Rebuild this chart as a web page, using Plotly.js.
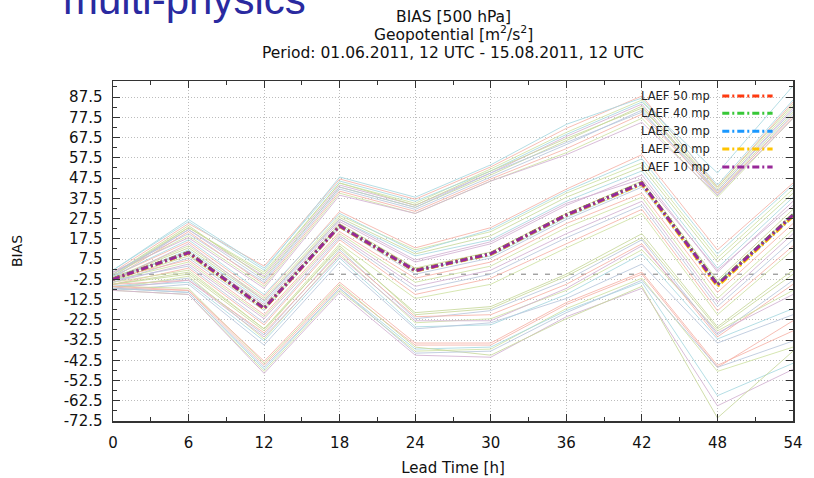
<!DOCTYPE html>
<html>
<head>
<meta charset="utf-8">
<script src="https://cdn.plot.ly/plotly-3.0.1.min.js"></script>
<style>html,body{margin:0;padding:0;background:#fff;}#chart{width:814px;height:478px;}</style>
</head>
<body>
<div id="chart"></div>
<script>
// Lead times (x values)
const leadTimes = [0, 6, 12, 18, 24, 30, 36, 42, 48, 54];

// Ensemble means
const laef50 = [-2.3, 10.8, -16.7, 24.0, 1.9, 10.2, 29.4, 45.1, -5.0, 29.4];
const laef40 = [-2.4, 10.7, -16.8, 23.9, 1.8, 10.1, 29.3, 45.0, -5.1, 29.3];
const laef30 = [-2.5, 10.5, -17.0, 23.7, 1.6, 9.9, 29.1, 44.8, -5.5, 29.0];
const laef20 = [-2.6, 10.4, -17.1, 23.6, 1.5, 9.8, 29.0, 44.5, -6.0, 28.6];
const laef10 = [-2.5, 10.6, -16.9, 23.8, 1.7, 10.0, 29.2, 44.9, -5.3, 29.2];
const meanNames = ["LAEF 50 mp", "LAEF 40 mp", "LAEF 30 mp", "LAEF 20 mp", "LAEF 10 mp"];

// Individual members (thin lines)
const members = [
  [1, 25, 4, 47, 37, 53, 72, 88, 43, 85],
  [0, 23, 1, 45, 35, 52, 70, 86, 42, 83],
  [2, 26, 2, 48, 38, 54, 74, 87, 44, 86],
  [-1, 22, -1, 44, 34, 50, 68, 84, 41, 82],
  [0, 24, -2, 43, 33, 49, 66, 83, 40, 80],
  [1, 20, -4, 42, 32, 48, 64, 81, 39, 79],
  [-2, 21, -5, 41, 31, 47, 62, 79, 40, 78],
  [0, 19, -6, 40, 30, 46, 60, 77, 38, 77],
  [2, 27, 3, 46, 36, 51, 69, 85, 50, 93],
  [1, 18, -7, 39, 30, 46, 59, 75, 39, 77],
  [-1, 23, 0, 45, 34, 51, 67, 82, 43, 84],
  [0, 22, -3, 43, 33, 50, 65, 80, 41, 81],
  [-1, 16, -11, 31, 13, 23, 42, 59, 12, 45],
  [-2, 14, -12, 29, 12, 21, 40, 55, 8, 42],
  [-3, 12, -14, 27, 9, 17, 36, 51, 3, 38],
  [-2, 11, -15, 26, 6, 15, 34, 49, 1, 36],
  [-3, 9, -17, 25, 3, 11, 30, 46, -3, 32],
  [-4, 8, -18, 23, 0, 8, 27, 43, -6, 28],
  [-2, 7, -20, 21, -2, 6, 25, 40, -9, 25],
  [-3, 6, -21, 20, -4, 4, 23, 38, -12, 22],
  [-1, 10, -16, 24, 2, 9, 28, 44, -4, 30],
  [-4, 5, -22, 19, -6, 2, 20, 36, -14, 20],
  [-2, 13, -13, 28, 10, 19, 38, 53, 6, 40],
  [-3, 4, -24, 18, -8, 0, 18, 34, -16, 17],
  [-5, 3, -25, 17, -10, -2, 15, 32, -18, 14],
  [-4, 2, -27, 15, -12, -5, 13, 30, -20, 12],
  [-1, 17, -10, 30, 11, 22, 41, 57, 10, 44],
  [-3, 15, -13, 27, 7, 16, 35, 47, 2, 34],
  [-5, 0, -28, 14, -20, -17, -1, 18, -27, 0],
  [-6, -2, -30, 12, -22, -18, -3, 17, -30, -3],
  [-5, -3, -29, 11, -21, -20, -5, 15, -31, -5],
  [-7, -1, -32, 10, -24, -22, -8, 12, -28, -8],
  [-6, -4, -33, 8, -26, -25, -10, 10, -32, -17],
  [-7, -3, -31, 9, -23, -23, -7, 14, -29, -10],
  [-5, 1, -27, 13, -19, -16, 0, 20, -26, 2],
  [-8, -5, -35, 6, -27, -24, -12, 5, -34, -20],
  [-7, -8, -45, -6, -35, -35, -15, 0, -46, -23],
  [-8, -10, -48, -8, -38, -37, -17, -2, -48, -36],
  [-7, -9, -47, -7, -37, -36, -18, -4, -60, -44],
  [-8, -10, -49, -9, -40, -41, -21, -7, -65, -47],
  [-6, -7, -44, -5, -36, -40, -22, -6, -71, -38],
  [-7, -9, -46, -7, -39, -38, -19, -3, -46, -33],
  [-6, -8, -43, -4, -34, -34, -14, 1, -45, -28]
];

// Tick labels
const yTickVals = [-72.5, -62.5, -52.5, -42.5, -32.5, -22.5, -12.5, -2.5, 7.5, 17.5, 27.5, 37.5, 47.5, 57.5, 67.5, 77.5, 87.5];
const xTickVals = [0, 6, 12, 18, 24, 30, 36, 42, 48, 54];
const titleLines = ['BIAS [500 hPa]', 'Geopotential [m<sup>2</sup>/s<sup>2</sup>]', 'Period: 01.06.2011, 12 UTC - 15.08.2011, 12 UTC'];
const zeroValue = 0;

const memberColors = ['#f6b3a8', '#cfe2a3', '#a8d8e0', '#d2b2d2', '#c8d89c', '#b9c7dc'];
const meanColors = ['#ff3a10', '#38c838', '#1a98ff', '#ffc400', '#982898'];
const dashPattern = '7px,3px,2px,3px';
const font = 'DejaVu Sans, Verdana, sans-serif';

const traces = [];
members.forEach((m, i) => {
  traces.push({
    x: leadTimes, y: m, type: 'scatter', mode: 'lines',
    line: {color: memberColors[i % memberColors.length], width: 1},
    opacity: 0.85, showlegend: false, hoverinfo: 'skip'
  });
});
[laef50, laef40, laef30, laef20, laef10].forEach((m, i) => {
  traces.push({
    x: leadTimes, y: m, type: 'scatter', mode: 'lines', name: meanNames[i],
    line: {color: meanColors[i], width: 3, dash: dashPattern},
    showlegend: false
  });
});

// Custom gnuplot-like legend (text then sample)
const legendY = [0.956, 0.905, 0.852, 0.800, 0.747];
const annotations = meanNames.map((n, i) => ({
  xref: 'paper', yref: 'paper', x: 0.881, y: legendY[i], xanchor: 'right', yanchor: 'middle',
  text: n, showarrow: false, font: {family: font, size: 11.5, color: '#222'}
}));
// Title lines
const titleY = [1.189, 1.140, 1.082];
titleLines.forEach((t, i) => {
  annotations.push({
    xref: 'paper', yref: 'paper', x: 0.5, y: titleY[i], xanchor: 'center', yanchor: 'middle',
    text: t, showarrow: false, font: {family: font, size: 15.5, color: '#111'}
  });
});
annotations.push({
  xref: 'paper', yref: 'paper', x: -0.077, y: 1.165, xanchor: 'left', yanchor: 'bottom',
  text: 'multi-physics', showarrow: false,
  font: {family: 'Liberation Sans, Arial, sans-serif', size: 42, color: '#2a2aa0'}
});
const shapes = meanNames.map((n, i) => ({
  type: 'line', xref: 'paper', yref: 'paper', x0: 0.896, x1: 0.970, y0: legendY[i], y1: legendY[i],
  line: {color: meanColors[i], width: 3, dash: dashPattern}
}));
shapes.push({
  type: 'line', xref: 'paper', yref: 'y', x0: 0, x1: 1, y0: zeroValue, y1: zeroValue,
  layer: 'below', line: {color: '#7a7a7a', width: 1, dash: '5px,7px'}
});

const axisCommon = {
  showline: true, linecolor: '#333', linewidth: 1.5, mirror: 'allticks',
  ticks: 'inside', ticklen: 7, tickcolor: '#333', tickwidth: 1,
  showgrid: true, gridcolor: '#bdbdbd', griddash: '1px,2px', gridwidth: 1,
  zeroline: false, tickfont: {family: font, size: 15, color: '#111'}
};

const layout = {
  width: 814, height: 478,
  margin: {l: 113, r: 21, t: 81, b: 57},
  paper_bgcolor: '#fff', plot_bgcolor: '#fff',
  xaxis: Object.assign({}, axisCommon, {
    range: [0, 54], tickvals: xTickVals, ticktext: xTickVals.map(String),
    ticklabelstandoff: 7,
    minor: {dtick: 3, tick0: 0, ticks: 'inside', ticklen: 4, tickcolor: '#333', showgrid: false},
    title: {text: 'Lead Time [h]', font: {family: font, size: 15, color: '#111'}, standoff: 12}
  }),
  yaxis: Object.assign({}, axisCommon, {
    range: [-72.5, 95.4], tickvals: yTickVals, ticktext: yTickVals.map(v => String(v)),
    ticklabelstandoff: 6,
    minor: {dtick: 5, tick0: -72.5, ticks: 'inside', ticklen: 4, tickcolor: '#333', showgrid: false},
    title: {text: 'BIAS', font: {family: font, size: 14, color: '#111'}, standoff: 38}
  }),
  annotations: annotations,
  shapes: shapes
};

Plotly.newPlot('chart', traces, layout, {displayModeBar: false, staticPlot: true});
</script>
</body>
</html>
